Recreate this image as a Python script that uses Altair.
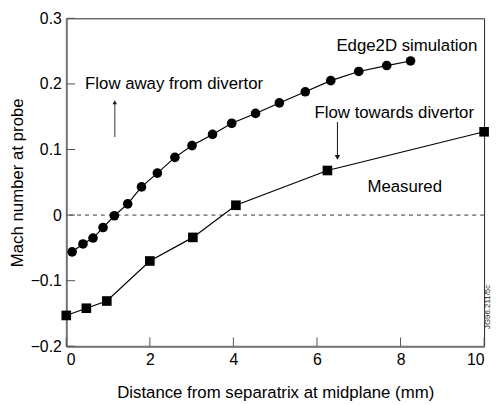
import altair as alt
import pandas as pd

# Edge2D simulation (circles)
sim_x = [0.14, 0.40, 0.64, 0.88, 1.15, 1.47, 1.80, 2.18, 2.60, 3.01, 3.50, 3.96,
         4.53, 5.10, 5.72, 6.33, 7.00, 7.67, 8.24]
sim_y = [-0.056, -0.044, -0.035, -0.019, -0.001, 0.017, 0.043, 0.064, 0.088, 0.106,
         0.123, 0.140, 0.155, 0.171, 0.188, 0.205, 0.219, 0.228, 0.235]

# Measured (squares)
meas_x = [0.0, 0.48, 0.97, 2.0, 3.03, 4.06, 6.25, 10.0]
meas_y = [-0.153, -0.142, -0.131, -0.070, -0.034, 0.015, 0.068, 0.127]

x_ticks = [0, 2, 4, 6, 8, 10]
y_ticks = [-0.2, -0.1, 0, 0.1, 0.2, 0.3]

# annotations
label_text = ["Edge2D simulation", "Flow towards divertor", "Measured"]
label_x = [8.15, 7.85, 8.10]
label_y = [0.2575, 0.155, 0.042]

away_text = ["Flow away from divertor"]
away_x = [0.45]
away_y = [0.200]

# arrows: x, start y, tip y
arrow_up = {"x": [1.16], "y": [0.119], "y2": [0.172], "tip": [0.172]}
arrow_down = {"x": [6.49], "y": [0.142], "y2": [0.088], "tip": [0.088]}

stamp_text = ["JG96.211/5c"]
stamp_x = [10.1]
stamp_y = [-0.140]

FONT = "Liberation Sans"

xs = alt.Scale(domain=[0, 10], nice=False)
ys = alt.Scale(domain=[-0.2, 0.3], nice=False)

sim = pd.DataFrame({"x": sim_x, "y": sim_y})
meas = pd.DataFrame({"x": meas_x, "y": meas_y})

base_x = alt.X("x:Q", scale=xs,
               axis=alt.Axis(values=x_ticks, title="Distance from separatrix at midplane (mm)",
                             grid=False, ticks=False, labelPadding=5,
                             titlePadding=18, format="d"))
base_y = alt.Y("y:Q", scale=ys,
               axis=alt.Axis(values=y_ticks, title="Mach number at probe",
                             grid=False, ticks=False, labelPadding=5,
                             titlePadding=4, format=".1~f"))

# inward tick marks drawn at the tick values
xt = pd.DataFrame({"x": x_ticks, "y": [-0.2] * len(x_ticks), "y2": [-0.1865] * len(x_ticks)})
yt = pd.DataFrame({"y": y_ticks, "x": [0] * len(y_ticks), "x2": [0.21] * len(y_ticks)})
xtick = alt.Chart(xt).mark_rule(color="#555", strokeWidth=1).encode(x="x:Q", y="y:Q", y2="y2:Q")
ytick = alt.Chart(yt).mark_rule(color="#555", strokeWidth=1).encode(y="y:Q", x="x:Q", x2="x2:Q")

zero = alt.Chart(pd.DataFrame({"y": [0]})).mark_rule(
    color="#333", strokeWidth=1, strokeDash=[4, 4]).encode(y=alt.Y("y:Q", scale=ys))

sim_line = alt.Chart(sim).mark_line(color="black", strokeWidth=1.2).encode(x=base_x, y=base_y)
sim_pts = alt.Chart(sim).mark_point(shape="circle", filled=True, color="black", size=95,
                                    opacity=1).encode(x="x:Q", y="y:Q")
meas_line = alt.Chart(meas).mark_line(color="black", strokeWidth=1.2).encode(x="x:Q", y="y:Q")
meas_pts = alt.Chart(meas).mark_point(shape="square", filled=True, color="black", size=95,
                                      opacity=1).encode(x="x:Q", y="y:Q")

labels = alt.Chart(pd.DataFrame({"t": label_text, "x": label_x, "y": label_y})).mark_text(
    font=FONT, fontSize=17, align="center", baseline="middle", color="black").encode(
    x="x:Q", y="y:Q", text="t:N")
away = alt.Chart(pd.DataFrame({"t": away_text, "x": away_x, "y": away_y})).mark_text(
    font=FONT, fontSize=17, align="left", baseline="middle", color="black").encode(
    x="x:Q", y="y:Q", text="t:N")

up_df = pd.DataFrame(arrow_up)
down_df = pd.DataFrame(arrow_down)
up_line = alt.Chart(up_df).mark_rule(color="#777", strokeWidth=1.5).encode(x="x:Q", y="y:Q", y2="y2:Q")
up_head = alt.Chart(up_df).mark_point(shape="triangle-up", filled=True, color="#222", size=22,
                                      opacity=1).encode(x="x:Q", y="tip:Q")
down_line = alt.Chart(down_df).mark_rule(color="#111", strokeWidth=1).encode(x="x:Q", y="y:Q", y2="y2:Q")
down_head = alt.Chart(down_df).mark_point(shape="triangle-down", filled=True, color="#111", size=30,
                                          opacity=1).encode(x="x:Q", y="tip:Q")

stamp = alt.Chart(pd.DataFrame({"t": stamp_text, "x": stamp_x, "y": stamp_y})).mark_text(
    font=FONT, fontSize=8, angle=270, align="center", baseline="middle", color="#222").encode(
    x="x:Q", y="y:Q", text="t:N")

chart = alt.layer(
    zero, sim_line, xtick, ytick, sim_pts, meas_line, meas_pts, labels, away,
    up_line, up_head, down_line, down_head, stamp
).properties(
    width=423, height=332,
    autosize=alt.AutoSizeParams(type="none"),
    padding={"left": 59, "top": 8, "right": 8, "bottom": 56},
    background="white",
).configure_view(
    stroke="#222", strokeWidth=1
).configure_axis(
    domainColor="#777", domainWidth=2,
    labelFont=FONT, titleFont=FONT, labelFontSize=16, titleFontSize=17,
    labelColor="black", titleColor="black", titleFontWeight="normal",
)

chart.save("out.html", embed_options={"renderer": "svg", "actions": False})
